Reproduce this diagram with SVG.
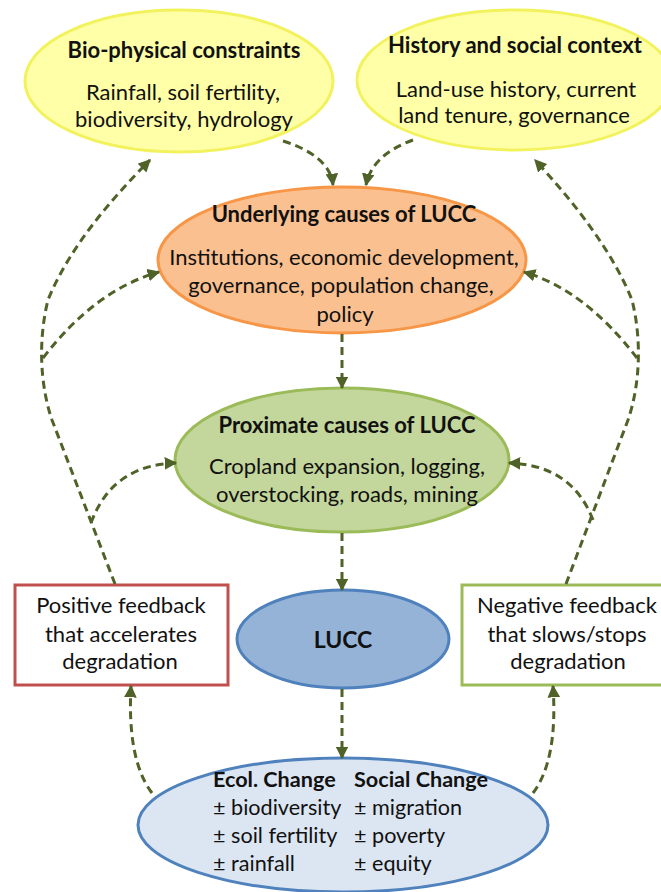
<svg xmlns="http://www.w3.org/2000/svg" width="661" height="892" viewBox="0 0 661 892">
<defs>
<marker id="ah" viewBox="0 0 10 10" refX="9" refY="5" markerWidth="4.2" markerHeight="4.2" orient="auto" markerUnits="strokeWidth">
<path d="M0,0 L10,5 L0,10 z" fill="#4F6228"/>
</marker>
<style>
text{font-family:Lato,"Liberation Sans",sans-serif;fill:#111;text-anchor:middle;font-size:22px}
.b{font-weight:bold}
.l{text-anchor:start;font-size:21.6px}
.c{fill:none;stroke:#4F6228;stroke-width:3;stroke-dasharray:8 5;marker-end:url(#ah)}
.y{fill:#FFFFA8;stroke:#F2F25E;stroke-width:3}
</style>
</defs>
<rect width="661" height="892" fill="#fff"/>
<g id="bio">
<ellipse class="y" cx="179" cy="81" rx="154" ry="71"/>
<text class="b" x="184" y="58">Bio-physical constraints</text>
<text x="183" y="100">Rainfall, soil fertility,</text>
<text x="184" y="127">biodiversity, hydrology</text>
</g>
<g id="history">
<ellipse class="y" cx="515" cy="80" rx="158" ry="70"/>
<text class="b" x="515" y="53">History and social context</text>
<text x="516" y="97">Land-use history, current</text>
<text x="514" y="123">land tenure, governance</text>
</g>
<g id="underlying">
<ellipse cx="342" cy="260" rx="184" ry="73" fill="#FAC090" stroke="#F79646" stroke-width="3"/>
<text class="b" x="344" y="222">Underlying causes of LUCC</text>
<text x="344" y="265">Institutions, economic development,</text>
<text x="341" y="293">governance, population change,</text>
<text x="345" y="322">policy</text>
</g>
<g id="proximate">
<ellipse cx="342" cy="460" rx="167" ry="72" fill="#C3D69B" stroke="#9BBB59" stroke-width="3"/>
<text class="b" x="347" y="433">Proximate causes of LUCC</text>
<text x="347" y="474">Cropland expansion, logging,</text>
<text x="347" y="502">overstocking, roads, mining</text>
</g>
<g id="lucc">
<ellipse cx="343" cy="639" rx="106" ry="49" fill="#95B3D7" stroke="#4F81BD" stroke-width="3"/>
<text class="b" x="343" y="648" style="font-size:23px">LUCC</text>
</g>
<g id="positive">
<rect x="15" y="585" width="213" height="100" fill="#fff" stroke="#C0504D" stroke-width="3"/>
<text x="121" y="613">Positive feedback</text>
<text x="121" y="642">that accelerates</text>
<text x="120" y="669">degradation</text>
</g>
<g id="negative">
<rect x="462" y="585" width="210" height="100" fill="#fff" stroke="#9BBB59" stroke-width="3"/>
<text x="567" y="613">Negative feedback</text>
<text x="567" y="642">that slows/stops</text>
<text x="568" y="669">degradation</text>
</g>
<g id="change">
<ellipse cx="343" cy="825" rx="205" ry="67" fill="#DCE6F2" stroke="#4F81BD" stroke-width="3"/>
<text class="b l" x="213" y="787">Ecol. Change</text>
<text class="l" x="213" y="815">± biodiversity</text>
<text class="l" x="213" y="843">± soil fertility</text>
<text class="l" x="213" y="871">± rainfall</text>
<text class="b l" x="354" y="787">Social Change</text>
<text class="l" x="354" y="815">± migration</text>
<text class="l" x="354" y="843">± poverty</text>
<text class="l" x="354" y="871">± equity</text>
</g>
<g id="connectors">
<path class="c" d="M283,141 Q330,156 333,185"/>
<path class="c" d="M413,140 Q372,155 366,185"/>
<path class="c" d="M342,334 L342,388"/>
<path class="c" d="M342,533 L342,590"/>
<path class="c" d="M342,689 L342,758"/>
<path class="c" d="M152,793 Q127,760 131,686"/>
<path class="c" d="M533,793 Q558,760 553,686"/>
<path class="c" d="M115,584 L52,420 C40,385 38,340 48,300 C68,250 110,200 150,160"/>
<path class="c" d="M43,358 Q95,290 159,272"/>
<path class="c" d="M91,523 Q112,465 176,463"/>
<path class="c" d="M566,584 L628,420 C640,385 642,340 632,300 C612,250 572,200 535,160"/>
<path class="c" d="M637,358 Q585,290 524,272"/>
<path class="c" d="M593,520 Q572,465 509,463"/>
</g>
</svg>
